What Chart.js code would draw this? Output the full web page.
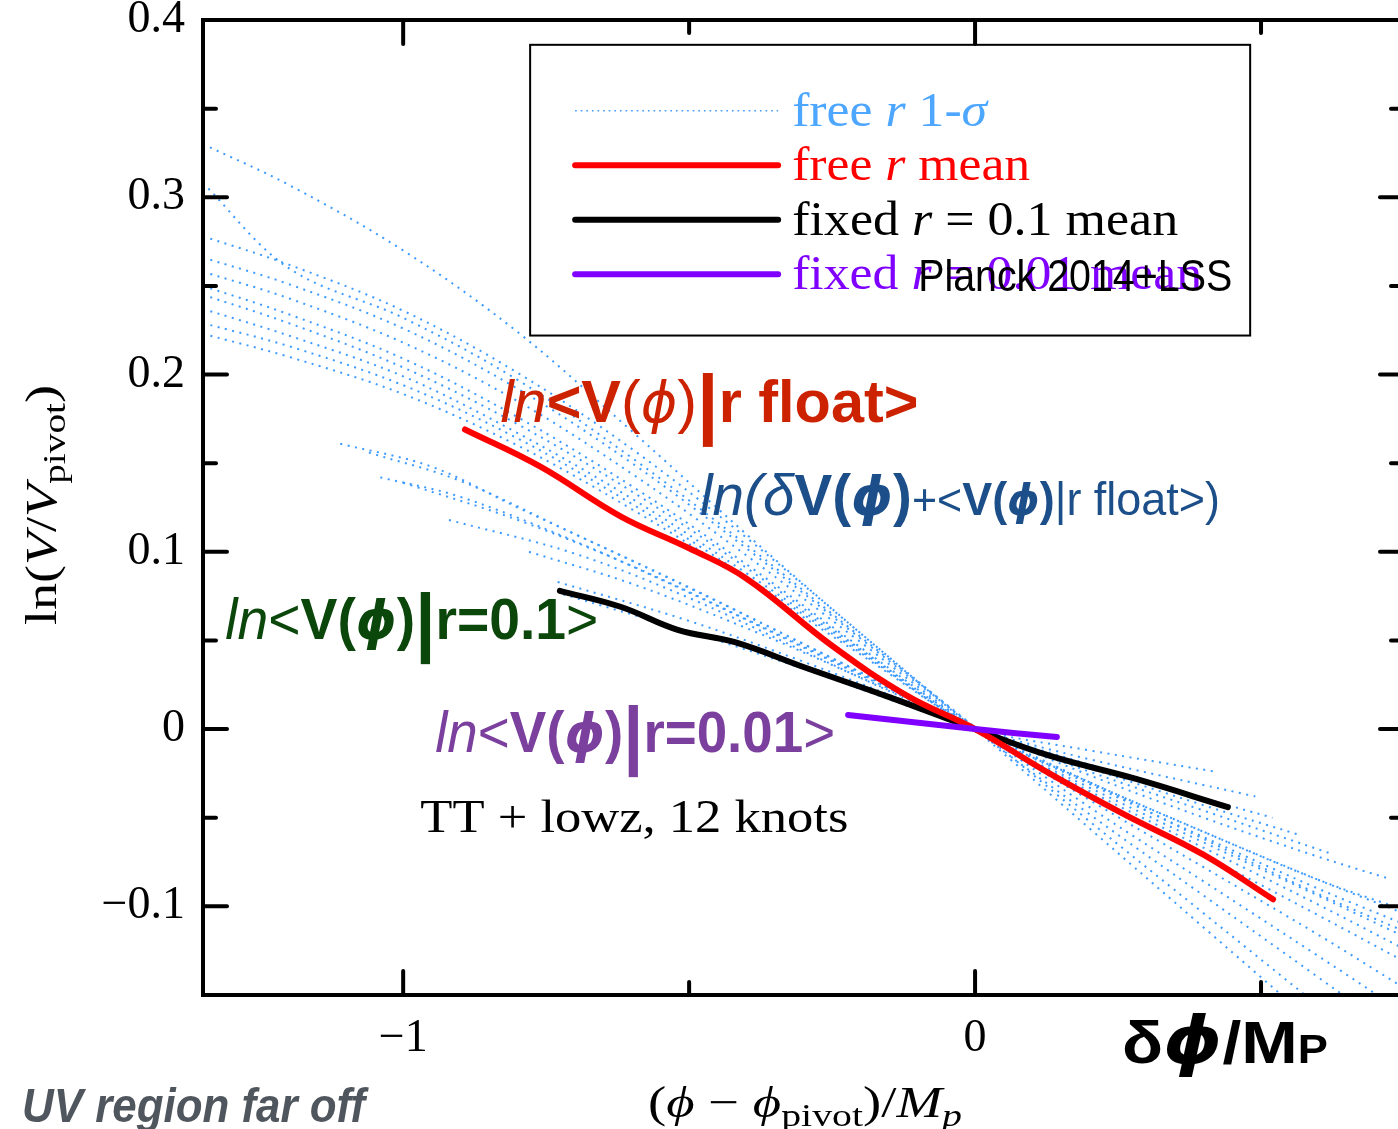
<!DOCTYPE html>
<html>
<head>
<meta charset="utf-8">
<script src="https://cdn.jsdelivr.net/npm/chart.js@4.4.0/dist/chart.umd.min.js"></script>
<style>
html, body { margin: 0; padding: 0; background: #fff; overflow: hidden; }
#wrap { position: relative; width: 1410px; height: 1129px; }
</style>
</head>
<body>
<div id="wrap"><canvas id="potentialChart"></canvas></div>
<script>
// x grid shared by the wide 1-sigma samples
const phiGrid = [-1.35, -1.2, -1.0, -0.8, -0.6, -0.4, -0.2, 0, 0.2, 0.4, 0.6, 0.75];
const sigmaWide = [
    [0.330, 0.307, 0.270, 0.224, 0.168, 0.110, 0.054, 0.000, -0.056, -0.112, -0.168, -0.210],
    [0.308, 0.260, 0.232, 0.197, 0.153, 0.104, 0.052, 0.001, -0.052, -0.104, -0.156, -0.195],
    [0.278, 0.262, 0.236, 0.201, 0.158, 0.108, 0.054, 0.000, -0.048, -0.094, -0.140, -0.175],
    [0.266, 0.251, 0.226, 0.192, 0.150, 0.102, 0.051, 0.001, -0.044, -0.086, -0.128, -0.160],
    [0.258, 0.243, 0.218, 0.185, 0.144, 0.098, 0.049, 0.000, -0.040, -0.078, -0.116, -0.146],
    [0.250, 0.234, 0.209, 0.176, 0.137, 0.093, 0.046, 0.000, -0.037, -0.071, -0.105, -0.131],
    [0.245, 0.229, 0.204, 0.172, 0.134, 0.091, 0.045, 0.000, -0.035, -0.067, -0.099, -0.124],
    [0.237, 0.222, 0.199, 0.167, 0.130, 0.088, 0.044, -0.001, -0.033, -0.064, -0.094, -0.117],
    [0.229, 0.216, 0.194, 0.164, 0.127, 0.086, 0.043, 0.000, -0.031, -0.061, -0.090, -0.110],
    [0.223, 0.210, 0.189, 0.160, 0.124, 0.084, 0.042, 0.000, -0.030, -0.058, -0.085, -0.102]
];
// shorter 1-sigma samples, [phi, lnV] pairs
const sigmaShort = [
    [[-1.11, 0.161], [-0.95, 0.148], [-0.8, 0.125], [-0.6, 0.095], [-0.4, 0.064], [-0.2, 0.032], [0, 0], [0.2, -0.030], [0.4, -0.058], [0.6, -0.085], [0.75, -0.104]],
    [[-1.06, 0.156], [-0.9, 0.140], [-0.7, 0.110], [-0.5, 0.080], [-0.3, 0.048], [-0.1, 0.016], [0, 0.001], [0.2, -0.026], [0.4, -0.050], [0.6, -0.072], [0.72, -0.084]],
    [[-1.04, 0.142], [-0.9, 0.131], [-0.7, 0.106], [-0.5, 0.077], [-0.3, 0.046], [-0.1, 0.015], [0, 0], [0.2, -0.024], [0.4, -0.046], [0.62, -0.070]],
    [[-1.0, 0.139], [-0.8, 0.118], [-0.6, 0.092], [-0.4, 0.062], [-0.2, 0.031], [0, 0], [0.2, -0.022], [0.4, -0.043], [0.57, -0.060]],
    [[-0.92, 0.118], [-0.7, 0.099], [-0.5, 0.074], [-0.3, 0.044], [-0.1, 0.014], [0, 0], [0.2, -0.020], [0.4, -0.039], [0.52, -0.050]],
    [[-0.78, 0.100], [-0.6, 0.082], [-0.4, 0.057], [-0.2, 0.029], [0, 0], [0.2, -0.030], [0.4, -0.062], [0.6, -0.093], [0.75, -0.114]],
    [[-0.73, 0.083], [-0.5, 0.061], [-0.3, 0.038], [-0.1, 0.013], [0, 0], [0.2, -0.012], [0.42, -0.024]],
    [[-0.72, 0.076], [-0.5, 0.055], [-0.3, 0.034], [-0.1, 0.011], [0, 0], [0.2, -0.017], [0.49, -0.038]]
];

const freeMeanPhi = [-0.892, -0.76, -0.62, -0.50, -0.40, -0.25, -0.12, 0, 0.13, 0.26, 0.40, 0.521];
const freeMeanV = [0.169, 0.148, 0.120, 0.102, 0.085, 0.047, 0.019, 0, -0.025, -0.048, -0.071, -0.096];
const fixed01Phi = [-0.726, -0.62, -0.52, -0.42, -0.30, -0.15, 0, 0.13, 0.28, 0.442];
const fixed01V = [0.078, 0.069, 0.056, 0.049, 0.035, 0.018, 0, -0.015, -0.028, -0.044];
const fixed001Phi = [-0.222, 0, 0.143];
const fixed001V = [0.008, 0, -0.0045];

const yMajor = [-0.1, 0, 0.1, 0.2, 0.3, 0.4];
const yMinor = [-0.15, -0.05, 0.05, 0.15, 0.25, 0.35];
const xMajor = [-1, 0];
const xMinor = [-0.5, 0.5];

const SANS = '"Liberation Sans", Arial, sans-serif';
const SERIF = '"Liberation Serif", "Times New Roman", serif';
const PHI = '"DejaVu Sans", sans-serif';

function pairs(xs, ys) {
    return xs.map((x, i) => ({ x: x, y: ys[i] }));
}

const dotStyle = {
    borderColor: '#3d9bff',
    borderWidth: 2,
    borderDash: [2, 5.5],
    pointRadius: 0,
    tension: 0.35,
    fill: false
};

const datasets = [
    { label: 'fixed r = 0.01 mean', data: pairs(fixed001Phi, fixed001V), borderColor: '#8000ff', borderWidth: 6, borderCapStyle: 'round', pointRadius: 0, tension: 0.3 },
    { label: 'free r mean', data: pairs(freeMeanPhi, freeMeanV), borderColor: '#ff0000', borderWidth: 6, borderCapStyle: 'round', pointRadius: 0, tension: 0.4 },
    { label: 'fixed r = 0.1 mean', data: pairs(fixed01Phi, fixed01V), borderColor: '#000000', borderWidth: 6, borderCapStyle: 'round', pointRadius: 0, tension: 0.4 }
];
sigmaWide.forEach(row => datasets.push(Object.assign({ label: 'free r 1-sigma', data: pairs(phiGrid, row) }, dotStyle)));
sigmaShort.forEach(pts => datasets.push(Object.assign({ label: 'free r 1-sigma', data: pts.map(p => ({ x: p[0], y: p[1] })) }, dotStyle)));

// draw a run of differently styled text pieces, squeezed to a width if given
function drawParts(ctx, x, y, parts, color, width) {
    let total = 0;
    parts.forEach(p => { ctx.font = p[1]; total += ctx.measureText(p[0]).width; });
    const sx = width ? width / total : 1;
    ctx.save();
    ctx.translate(x, y);
    ctx.scale(sx, 1);
    ctx.textBaseline = 'alphabetic';
    ctx.textAlign = 'left';
    let cx = 0;
    parts.forEach(p => {
        ctx.font = p[1];
        ctx.fillStyle = p[3] || color;
        ctx.fillText(p[0], cx, p[2] || 0);
        cx += ctx.measureText(p[0]).width;
    });
    ctx.restore();
}

const annotations = {
    id: 'annotations',
    afterDatasetsDraw(chart) {
        const ctx = chart.ctx;
        const xs = chart.scales.x, ys = chart.scales.y;
        const px = v => xs.getPixelForValue(v);
        const py = v => ys.getPixelForValue(v);

        drawParts(ctx, px(-0.830), py(0.173), [
            ['ln', 'italic 60px ' + SANS], ['<', 'bold 60px ' + SANS], ['V', 'bold 60px ' + SANS],
            ['(', '60px ' + SANS], ['ϕ', 'italic 56px ' + PHI], [')', '60px ' + SANS],
            ['|', 'bold 78px ' + SANS, 8], ['r float>', 'bold 60px ' + SANS]
        ], '#cc2200', 418);

        drawParts(ctx, px(-0.481), py(0.121), [
            ['ln(', 'italic 58px ' + SANS], ['δ', 'italic 58px ' + SANS], ['V(', 'bold 58px ' + SANS],
            ['ϕ', 'bold italic 54px ' + PHI], [')', 'bold 58px ' + SANS], ['+<', '44px ' + SANS],
            ['V(', 'bold 46px ' + SANS], ['ϕ', 'bold italic 42px ' + PHI], [')', 'bold 46px ' + SANS],
            ['|r float>)', '46px ' + SANS]
        ], '#1c4f8a', 520);

        drawParts(ctx, px(-1.311), py(0.051), [
            ['ln', 'italic 58px ' + SANS], ['<', '58px ' + SANS], ['V(', 'bold 58px ' + SANS],
            ['ϕ', 'bold italic 54px ' + PHI], [')', 'bold 58px ' + SANS], ['|', 'bold 76px ' + SANS, 8],
            ['r=0.1', 'bold 58px ' + SANS], ['>', '58px ' + SANS]
        ], '#0b460b', 373);

        drawParts(ctx, px(-0.944), py(-0.013), [
            ['ln', 'italic 58px ' + SANS], ['<', '58px ' + SANS], ['V(', 'bold 58px ' + SANS],
            ['ϕ', 'bold italic 54px ' + PHI], [')', 'bold 58px ' + SANS], ['|', 'bold 76px ' + SANS, 8],
            ['r=0.01', 'bold 58px ' + SANS], ['>', '58px ' + SANS]
        ], '#7b3f9e', 400);

        drawParts(ctx, px(-0.970), py(-0.058), [['TT + lowz, 12 knots', '46px ' + SERIF]], '#000', 428);

        // legend box
        const bx = px(-0.778), bx2 = px(0.481), by = py(0.386), by2 = py(0.222);
        ctx.save();
        ctx.lineWidth = 2;
        ctx.strokeStyle = '#000';
        ctx.strokeRect(bx, by, bx2 - bx, by2 - by);
        const rows = [
            { ds: 3, color: '#4da6ff', parts: [['free ', '48px ' + SERIF], ['r', 'italic 48px ' + SERIF], [' 1-', '48px ' + SERIF], ['σ', 'italic 48px ' + SERIF]], w: 195 },
            { ds: 1, color: '#ff0000', parts: [['free ', '48px ' + SERIF], ['r', 'italic 48px ' + SERIF], [' mean', '48px ' + SERIF]], w: 238 },
            { ds: 2, color: '#000000', parts: [['fixed ', '48px ' + SERIF], ['r', 'italic 48px ' + SERIF], [' = 0.1 mean', '48px ' + SERIF]], w: 386 },
            { ds: 0, color: '#8000ff', parts: [['fixed ', '48px ' + SERIF], ['r', 'italic 48px ' + SERIF], [' = 0.01 mean', '48px ' + SERIF]], w: 410 }
        ];
        rows.forEach((row, i) => {
            const ly = by + 66 + i * 54.5;
            const d = chart.data.datasets[row.ds];
            ctx.beginPath();
            ctx.strokeStyle = d.borderColor;
            ctx.lineWidth = row.ds === 3 ? 1.6 : 6;
            ctx.lineCap = row.ds === 3 ? 'butt' : 'round';
            ctx.setLineDash(row.ds === 3 ? [1.6, 4] : []);
            ctx.moveTo(bx + 45, ly);
            ctx.lineTo(bx + 248, ly);
            ctx.stroke();
            ctx.setLineDash([]);
            drawParts(ctx, bx + 262, ly + 15, row.parts, row.color, row.w);
        });
        ctx.restore();
        drawParts(ctx, bx + 388, by + 246, [['Planck 2014+LSS', '44px ' + SANS]], '#000', 314);
    },
    afterDraw(chart) {
        const ctx = chart.ctx;
        const a = chart.chartArea;
        const xs = chart.scales.x, ys = chart.scales.y;
        ctx.save();
        ctx.strokeStyle = '#000';
        ctx.lineWidth = 4;
        ctx.lineCap = 'round';
        const seg = (x1, y1, x2, y2) => { ctx.beginPath(); ctx.moveTo(x1, y1); ctx.lineTo(x2, y2); ctx.stroke(); };
        yMajor.concat(yMinor).forEach(v => {
            const y = ys.getPixelForValue(v);
            const len = yMajor.includes(v) ? 24 : 13;
            seg(a.left, y, a.left + len, y);
            seg(a.right, y, a.right - len, y);
        });
        xMajor.concat(xMinor).forEach(v => {
            const x = xs.getPixelForValue(v);
            const len = xMajor.includes(v) ? 24 : 13;
            seg(x, a.bottom, x, a.bottom - len);
            seg(x, a.top, x, a.top + len);
        });
        ctx.lineCap = 'square';
        ctx.strokeRect(a.left, a.top, a.right - a.left, a.bottom - a.top);
        ctx.restore();

        // axis titles
        drawParts(ctx, 648, 1117, [
            ['(', '44px ' + SERIF], ['ϕ', 'italic 44px ' + SERIF], [' − ', '44px ' + SERIF], ['ϕ', 'italic 44px ' + SERIF],
            ['pivot', '32px ' + SERIF, 9], [')/', '44px ' + SERIF], ['M', 'italic 44px ' + SERIF], ['p', 'italic 32px ' + SERIF, 9]
        ], '#000', 314);
        ctx.save();
        ctx.translate(56, 625);
        ctx.rotate(-Math.PI / 2);
        drawParts(ctx, 0, 0, [
            ['ln(', '44px ' + SERIF], ['V', 'italic 44px ' + SERIF], ['/', '44px ' + SERIF], ['V', 'italic 44px ' + SERIF],
            ['pivot', '32px ' + SERIF, 9], [')', '44px ' + SERIF]
        ], '#000', 240);
        ctx.restore();

        drawParts(ctx, 1122, 1063, [
            ['δ', 'bold 60px ' + SANS], ['ϕ', 'bold italic 66px ' + PHI], ['/M', 'bold 60px ' + SANS], ['P', 'bold 40px ' + SANS]
        ], '#000', 206);
        drawParts(ctx, 22, 1122, [['UV region far off', 'bold italic 49px ' + SANS]], '#50565d', 343);
    }
};

const ctx = document.getElementById('potentialChart').getContext('2d');
const potentialChart = new Chart(ctx, {
    type: 'line',
    data: { datasets: datasets },
    options: {
        responsive: true,
        maintainAspectRatio: false,
        animation: false,
        layout: { padding: { top: 20, right: 6, left: 0, bottom: 0 } },
        scales: {
            x: {
                type: 'linear',
                min: -1.35,
                max: 0.75,
                grid: { display: false, drawTicks: false },
                border: { display: false },
                afterBuildTicks: s => { s.ticks = xMajor.map(v => ({ value: v })); },
                afterFit: s => { s.height = 134; s.paddingLeft = 0; s.paddingRight = 0; },
                ticks: {
                    autoSkip: false,
                    maxRotation: 0,
                    padding: 16,
                    color: '#000',
                    font: { size: 46, family: SERIF },
                    callback: v => v < 0 ? '\u2212' + Math.abs(v) : String(v)
                }
            },
            y: {
                type: 'linear',
                min: -0.15,
                max: 0.4,
                grid: { display: false, drawTicks: false },
                border: { display: false },
                afterBuildTicks: s => { s.ticks = yMajor.map(v => ({ value: v })); },
                afterFit: s => { s.width = 203; s.paddingTop = 0; s.paddingBottom = 0; },
                ticks: {
                    autoSkip: false,
                    padding: 18,
                    color: '#000',
                    font: { size: 46, family: SERIF },
                    callback: v => {
                        const r = Math.round(v * 10) / 10;
                        return r < 0 ? '\u2212' + Math.abs(r) : String(r);
                    }
                }
            }
        },
        plugins: {
            legend: { display: false },
            tooltip: { enabled: false },
            title: { display: false }
        }
    },
    plugins: [annotations]
});
</script>
</body>
</html>
